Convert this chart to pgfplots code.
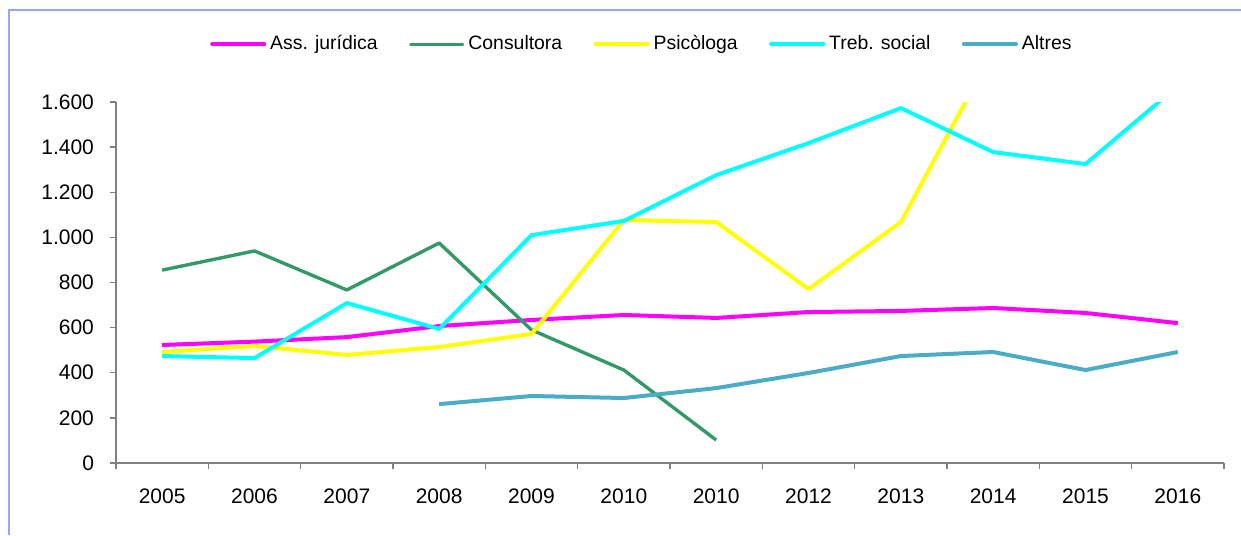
\documentclass[border=0pt]{standalone}
\usepackage{pgfplots}
\pgfplotsset{compat=1.18}
\usepackage{fontspec}
\setmainfont{Liberation Sans}
\definecolor{cMag}{RGB}{255,0,255}
\definecolor{cGreen}{RGB}{51,153,102}
\definecolor{cYel}{RGB}{255,255,0}
\definecolor{cCyan}{RGB}{0,255,255}
\definecolor{cAlt}{RGB}{75,172,198}
\definecolor{cFrame}{RGB}{148,170,240}
\definecolor{cAxis}{RGB}{128,128,128}
\begin{document}
\begin{tikzpicture}
\useasboundingbox (0,0) rectangle (620.5pt,-267.5pt);
\draw[cFrame, line width=1pt] (4.5pt,-267.5pt) -- (4.5pt,-5pt) -- (620.5pt,-5pt);
\begin{axis}[
  at={(58pt,-231.5pt)}, anchor=south west,
  scale only axis, width=554pt, height=180.5pt,
  xmin=-0.5, xmax=11.5, ymin=0, ymax=1600,
  axis x line*=bottom, axis y line*=left,
  axis line style={cAxis, line width=0.8pt},
  tick style={cAxis, line width=0.7pt},
  tick align=outside, major tick length=3pt,
  xtick={-0.5,0.5,...,11.5}, xticklabels={,,,,,,,,,,,,,},
  extra x ticks={0,1,2,3,4,5,6,7,8,9,10,11},
  extra x tick labels={2005,2006,2007,2008,2009,2010,2010,2012,2013,2014,2015,2016},
  extra x tick style={major tick length=0pt, xticklabel style={yshift=-9.5pt}},
  ytick={0,200,...,1600},
  yticklabels={0,200,400,600,800,{1.000},{1.200},{1.400},{1.600}},
  yticklabel style={xshift=-4.5pt},
  ticklabel style={font=\fontsize{10.5}{12}\selectfont, text=black},
  /pgf/number format/assume math mode=true,
  legend columns=5,
  legend style={draw=none, fill=none, at={(axis description cs:0.4755,1.16)}, anchor=center,
    font=\fontsize{9.7}{12}\selectfont, /tikz/every even column/.append style={column sep=13.7pt}},
  legend image code/.code={\draw[#1, line cap=round] (0pt,0pt) -- (26pt,0pt);},
  every axis plot/.append style={line width=2pt, line join=round},
]
\addplot[cMag] coordinates {(0,523) (1,538) (2,558) (3,607) (4,634) (5,656) (6,643) (7,669) (8,674) (9,687) (10,665) (11,620)};
\addlegendentry{Ass. jurídica}
\addplot[cGreen, line width=1.7pt] coordinates {(0,855) (1,940) (2,767) (3,975) (4,590) (5,412) (6,102)};
\addlegendentry{Consultora}
\addplot[cYel] coordinates {(0,492) (1,519) (2,479) (3,514) (4,572) (5,1077) (6,1068) (7,771) (8,1068) (9,1830) (10,1950) (11,2100)};
\addlegendentry{Psicòloga}
\addplot[cCyan] coordinates {(0,474) (1,465) (2,709) (3,594) (4,1010) (5,1073) (6,1276) (7,1418) (8,1573) (9,1378) (10,1325) (11,1671)};
\addlegendentry{Treb. social}
\addplot[cAlt] coordinates {(3,261) (4,297) (5,288) (6,332) (7,399) (8,474) (9,492) (10,412) (11,492)};
\addlegendentry{Altres}
\end{axis}
\end{tikzpicture}
\end{document}
